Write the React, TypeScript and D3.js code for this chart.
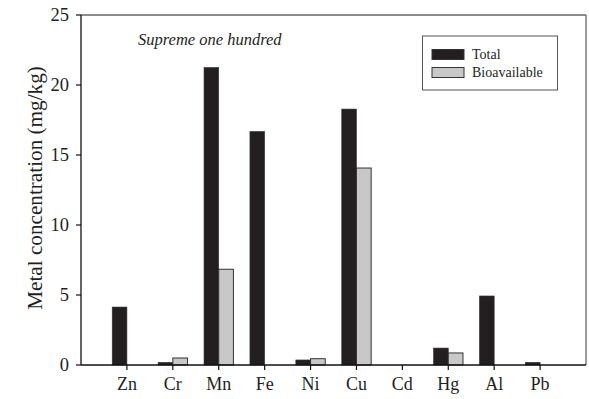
import React from "react";
import * as d3 from "d3";

const metals = ["Zn", "Cr", "Mn", "Fe", "Ni", "Cu", "Cd", "Hg", "Al", "Pb"];
const totalValues = [4.14, 0.19, 21.25, 16.68, 0.36, 18.28, 0, 1.21, 4.93, 0.19];
const bioValues = [0, 0.5, 6.84, 0, 0.45, 14.07, 0, 0.86, 0, 0];
const yTicks = [0, 5, 10, 15, 20, 25];
const seriesNames = ["Total", "Bioavailable"];

const W = 589;
const H = 399;
const left = 81;
const right = 586;
const top = 15;
const bottom = 365;
const font = "Liberation Serif, Tinos, DejaVu Serif, serif";

export default function App() {
  const x = d3.scaleLinear().domain([0, metals.length + 1]).range([left, right]);
  const y = d3.scaleLinear().domain([0, 25]).range([bottom, top]);
  const bw = 14.7;
  const totalColor = "#231f20";
  const bioColor = "#c8c8c8";
  const txt = { fontFamily: font, fill: "#231f20" } as React.CSSProperties;

  return (
    <svg
      width={W}
      height={H}
      style={{ position: "absolute", left: 0, top: 0, background: "#fff" }}
    >
      {/* frame */}
      <line x1={left} x2={right} y1={top} y2={top} stroke="#666" strokeWidth={1.3} />
      <line x1={right} x2={right} y1={top} y2={bottom} stroke="#666" strokeWidth={1.3} />

      {/* bars */}
      {metals.map((m, i) => {
        const cx = x(i + 1);
        const t = totalValues[i];
        const b = bioValues[i];
        return (
          <g key={m}>
            {t > 0 && (
              <rect x={cx - bw} y={y(t)} width={bw} height={y(0) - y(t)} fill={totalColor} stroke="#333" strokeWidth={0.6} />
            )}
            {b > 0 && (
              <rect x={cx} y={y(b)} width={bw} height={y(0) - y(b)} fill={bioColor} stroke="#333" strokeWidth={1} />
            )}
          </g>
        );
      })}

      {/* axes */}
      <line x1={left} x2={left} y1={top} y2={bottom} stroke="#111" strokeWidth={1.3} />
      <line x1={left} x2={right} y1={bottom} y2={bottom} stroke="#111" strokeWidth={1.3} />
      {yTicks.map((v) => (
        <g key={v}>
          <line x1={left - 5} x2={left} y1={y(v)} y2={y(v)} stroke="#111" strokeWidth={1.2} />
          <text x={left - 12} y={y(v) + 6} textAnchor="end" fontSize={18.5} style={txt}>
            {v}
          </text>
        </g>
      ))}
      {metals.map((m, i) => (
        <g key={m}>
          <line x1={x(i + 1)} x2={x(i + 1)} y1={bottom} y2={bottom + 5} stroke="#111" strokeWidth={1.2} />
          <text x={x(i + 1)} y={390} textAnchor="middle" fontSize={18} style={txt}>
            {m}
          </text>
        </g>
      ))}

      <text
        transform={`translate(42, 188) rotate(-90)`}
        textAnchor="middle"
        fontSize={21.2}
        style={txt}
      >
        Metal concentration (mg/kg)
      </text>

      <text x={138} y={45} fontSize={16.5} fontStyle="italic" style={txt}>
        Supreme one hundred
      </text>

      {/* legend */}
      <rect x={422.5} y={36} width={135} height={54} fill="#fff" stroke="#555" strokeWidth={1} />
      {seriesNames.map((s, i) => (
        <g key={s}>
          <rect
            x={432}
            y={49.5 + i * 18}
            width={32}
            height={10}
            fill={i === 0 ? totalColor : bioColor}
            stroke="#333"
            strokeWidth={1}
          />
          <text x={472} y={59 + i * 17.5} fontSize={14} style={txt}>
            {s}
          </text>
        </g>
      ))}
    </svg>
  );
}
